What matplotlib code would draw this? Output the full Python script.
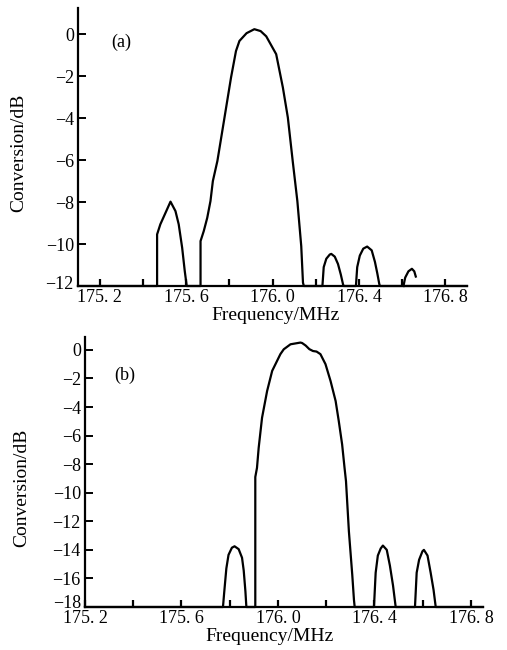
import matplotlib
matplotlib.use("Agg")
import matplotlib.pyplot as plt
from matplotlib.transforms import ScaledTranslation

plt.rcParams['font.family'] = ['Liberation Serif', 'DejaVu Serif']

# ---------------- data: panel (a) ----------------
base_a = -12.0
xrange_a = [175.10, 176.90]
lobe1_f_a = [175.466, 175.466, 175.481, 175.505, 175.528, 175.551, 175.566, 175.582, 175.594, 175.600, 175.603]
lobe1_c_a = [-12.0, -9.54, -9.06, -8.51, -7.98, -8.43, -9.06, -10.18, -11.29, -11.76, -12.0]
main_f_a = [175.667, 175.667, 175.682, 175.698, 175.713, 175.724, 175.745, 175.776, 175.808, 175.831,
            175.847, 175.880, 175.916, 175.945, 175.971, 176.017, 176.048, 176.071, 176.094, 176.115,
            176.133, 176.141, 176.145]
main_c_a = [-12.0, -9.86, -9.38, -8.75, -7.95, -7.0, -6.04, -4.09, -2.07, -0.80,
            -0.32, 0.05, 0.24, 0.15, -0.10, -0.95, -2.54, -3.97, -6.09, -7.95,
            -10.10, -11.84, -12.0]
lobe2_f_a = [176.231, 176.237, 176.249, 176.265, 176.272, 176.288, 176.303, 176.316, 176.327, 176.330]
lobe2_c_a = [-12.0, -11.1, -10.7, -10.5, -10.47, -10.6, -10.95, -11.45, -11.95, -12.0]
lobe3_f_a = [176.386, 176.392, 176.404, 176.420, 176.438, 176.459, 176.474, 176.485, 176.494, 176.497]
lobe3_c_a = [-12.0, -11.1, -10.55, -10.22, -10.12, -10.3, -10.85, -11.4, -11.9, -12.0]
hook_f_a = [176.606, 176.614, 176.629, 176.645, 176.656, 176.663]
hook_c_a = [-12.0, -11.6, -11.3, -11.18, -11.3, -11.55]

# ---------------- data: panel (b) ----------------
base_b = -18.0
xrange_b = [175.20, 176.85]
lobeL_f_b = [175.772, 175.777, 175.786, 175.795, 175.809, 175.820, 175.837, 175.851, 175.858, 175.865, 175.869]
lobeL_c_b = [-18.0, -17.0, -15.3, -14.35, -13.85, -13.75, -13.95, -14.55, -15.45, -16.9, -18.0]
main_f_b = [175.906, 175.906, 175.913, 175.920, 175.934, 175.955, 175.976, 176.010, 176.024, 176.052,
            176.093, 176.100, 176.115, 176.130, 176.145, 176.160, 176.176, 176.197, 176.218, 176.239,
            176.252, 176.266, 176.276, 176.282, 176.294, 176.308, 176.315, 176.318]
main_c_b = [-18.0, -8.9, -8.26, -6.86, -4.75, -2.88, -1.47, -0.30, 0.04, 0.39,
            0.51, 0.48, 0.30, 0.05, -0.08, -0.12, -0.30, -1.0, -2.18, -3.58,
            -4.98, -6.62, -8.26, -9.19, -12.7, -15.75, -17.5, -18.0]
lobeR1_f_b = [176.398, 176.405, 176.414, 176.426, 176.435, 176.451, 176.464, 176.477, 176.488]
lobeR1_c_b = [-18.0, -15.6, -14.4, -13.9, -13.7, -14.0, -15.1, -16.5, -18.0]
lobeR2_f_b = [176.568, 176.575, 176.585, 176.599, 176.605, 176.620, 176.633, 176.645, 176.654]
lobeR2_c_b = [-18.0, -15.6, -14.7, -14.1, -14.0, -14.4, -15.6, -16.8, -18.0]

xticks_major = [175.2, 175.6, 176.0, 176.4, 176.8]
xticks_minor = [175.4, 175.8, 176.2, 176.6]
xtick_labels = ["175. 2", "175. 6", "176. 0", "176. 4", "176. 8"]
yticks_a = [0, -2, -4, -6, -8, -10, -12]
yticks_b = [0, -2, -4, -6, -8, -10, -12, -14, -16, -18]

W, H = 507, 650
fig = plt.figure(figsize=(W / 100, H / 100), dpi=100)


def px_axes(left, right, top, bottom):
    return fig.add_axes([left / W, 1 - bottom / H, (right - left) / W, (bottom - top) / H])


def style(ax, yticks, xlim, ylim, lift):
    ax.set_xlim(*xlim)
    ax.set_ylim(*ylim)
    for s in ['top', 'right']:
        ax.spines[s].set_visible(False)
    for s in ['left', 'bottom']:
        ax.spines[s].set_linewidth(1.6)
        ax.spines[s].set_color('black')
    ax.set_xticks(xticks_major)
    ax.set_xticklabels(xtick_labels)
    ax.set_xticks(xticks_minor, minor=True)
    ax.set_yticks(yticks)
    ax.set_yticklabels(["0" if v == 0 else "\u2212" + str(abs(v)) for v in yticks])
    ax.tick_params(axis='x', which='both', direction='in', length=5, width=1.6, labelsize=13, pad=2)
    ax.tick_params(axis='y', which='both', direction='in', length=6, width=1.4, labelsize=13, pad=3)
    ax.patch.set_alpha(0)
    # lift the lowest y label a little, as in the print
    for t in ax.yaxis.get_major_ticks():
        if abs(t.get_loc() - ylim[0]) < 1e-6:
            t.label1.set_transform(t.label1.get_transform() +
                                   ScaledTranslation(0, lift / 100, fig.dpi_scale_trans))


def draw(ax, xr, base, lobes):
    fs = [xr[0]]
    cs = [base]
    for f, c in lobes:
        fs += list(f)
        cs += list(c)
    fs.append(xr[1])
    cs.append(base)
    ax.plot(fs, cs, color='black', lw=1.6, solid_joinstyle='round', clip_on=False)


# panel (a)
ax1 = px_axes(78, 467, 8, 286)
style(ax1, yticks_a, xrange_a, (-12, 1.25), 3)
draw(ax1, xrange_a, base_a, [(lobe1_f_a, lobe1_c_a), (main_f_a, main_c_a),
                             (lobe2_f_a, lobe2_c_a), (lobe3_f_a, lobe3_c_a)])
ax1.plot(hook_f_a, hook_c_a, color='black', lw=1.6, clip_on=False)
ax1.text((121 - 78) / 389, (286 - 42) / 278, "(a)", transform=ax1.transAxes,
         ha='center', va='center', fontsize=13)
ax1.set_ylabel("Conversion/dB", fontsize=14)
ax1.yaxis.set_label_coords((27 - 78) / 389, 0.478)
ax1.set_xlabel("Frequency/MHz", fontsize=14)
ax1.xaxis.set_label_coords((276 - 78) / 389, (286 - 307) / 278)

# panel (b)
ax2 = px_axes(85, 483, 337, 607)
style(ax2, yticks_b, xrange_b, (-18, 0.9), 6)
draw(ax2, xrange_b, base_b, [(lobeL_f_b, lobeL_c_b), (main_f_b, main_c_b),
                             (lobeR1_f_b, lobeR1_c_b), (lobeR2_f_b, lobeR2_c_b)])
ax2.text((125 - 85) / 398, (607 - 375) / 270, "(b)", transform=ax2.transAxes,
         ha='center', va='center', fontsize=13)
ax2.set_ylabel("Conversion/dB", fontsize=14)
ax2.yaxis.set_label_coords((30 - 85) / 398, (607 - 488) / 270)
ax2.set_xlabel("Frequency/MHz", fontsize=14)
ax2.xaxis.set_label_coords((270 - 85) / 398, (607 - 628) / 270)

fig.savefig("out.png", dpi=100)
